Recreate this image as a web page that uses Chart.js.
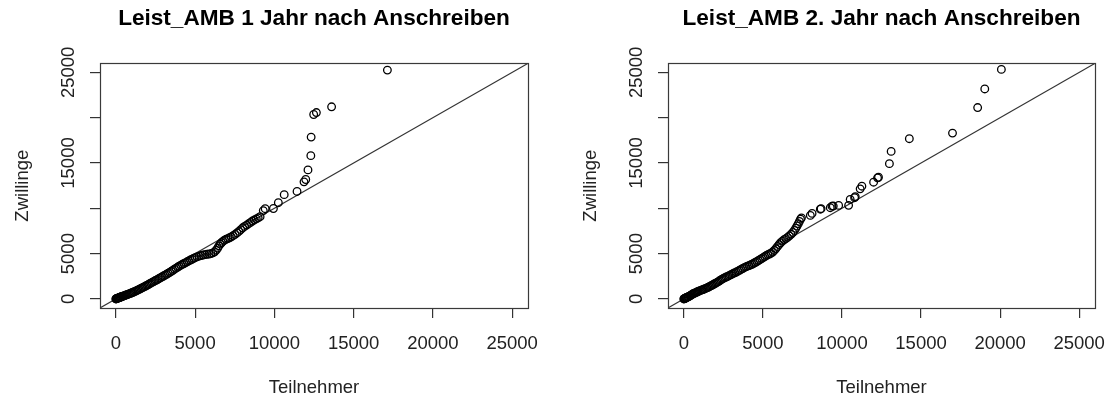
<!DOCTYPE html>
<html lang="de">
<head>
<meta charset="UTF-8">
<title>Leist_AMB QQ-Plots</title>
<script src="https://cdn.jsdelivr.net/npm/chart.js"></script>
<style>
  body { margin: 0; background: #fff; }
  #wrap { position: relative; width: 1113px; height: 401px; }
  canvas { position: absolute; top: 0; }
  #links { left: 0; }
  #rechts { left: 556px; }
</style>
</head>
<body>
<div id="wrap">
  <canvas id="links" width="556" height="401"></canvas>
  <canvas id="rechts" width="557" height="401"></canvas>
</div>
<script>
// Achsen (beide Panels gleich)
const achsenTicks = [0, 5000, 10000, 15000, 20000, 25000];
const xTickLabels = ['0', '5000', '10000', '15000', '20000', '25000'];
const yTickLabels = ['0', '5000', '', '15000', '', '25000']; // R laesst ueberlappende Labels weg
const achsenMin = -1000;
const achsenMax = 26000;
const titel1 = 'Leist_AMB 1 Jahr nach Anschreiben';
const titel2 = 'Leist_AMB 2. Jahr nach Anschreiben';
const xLabel = 'Teilnehmer';
const yLabel = 'Zwillinge';

// Panel 1: sortierte Werte
const teilnehmer1 = [0, 15, 35, 55, 80, 105, 130, 160, 195, 230, 265, 300, 345, 390, 440, 495, 545, 600, 655, 720,
  790, 860, 935, 1005, 1080, 1160, 1245, 1320, 1400, 1480, 1565, 1640, 1720, 1805, 1880, 1960, 2045, 2120, 2200, 2290,
  2380, 2470, 2560, 2650, 2745, 2830, 2920, 3010, 3105, 3200, 3300, 3400, 3500, 3600, 3700, 3800, 3905, 4000, 4100, 4200,
  4300, 4400, 4500, 4600, 4700, 4800, 4900, 5000, 5120, 5250, 5380, 5500, 5620, 5750, 5880, 6000, 6120, 6230, 6330, 6420,
  6500, 6580, 6660, 6750, 6850, 6950, 7060, 7170, 7280, 7400, 7520, 7640, 7760, 7880, 8000, 8120, 8250, 8380, 8500, 8620,
  8740, 8860, 8980, 9100, 9300, 9420, 9940, 10250, 10620, 11430, 11870, 11980, 12120, 12300, 12320, 12480, 12650, 13610, 17130];
const zwillinge1 = [0, 10, 25, 40, 55, 75, 90, 115, 140, 160, 185, 210, 240, 270, 300, 330, 365, 400, 445, 485,
  530, 580, 630, 680, 740, 795, 860, 925, 995, 1065, 1140, 1210, 1280, 1350, 1420, 1500, 1580, 1655, 1740, 1830,
  1915, 2000, 2080, 2170, 2260, 2350, 2440, 2530, 2620, 2720, 2830, 2935, 3050, 3160, 3280, 3400, 3520, 3615, 3730, 3820,
  3910, 4000, 4100, 4200, 4295, 4380, 4470, 4550, 4640, 4720, 4790, 4850, 4890, 4930, 4960, 5005, 5080, 5200, 5380, 5600,
  5850, 6050, 6200, 6350, 6480, 6580, 6660, 6750, 6850, 6980, 7120, 7280, 7450, 7650, 7850, 8000, 8150, 8300, 8450, 8600,
  8720, 8830, 8950, 9080, 9750, 9960, 9980, 10620, 11510, 11860, 12920, 13180, 14240, 15810, 17860, 20350, 20570, 21200, 25250];

// Panel 2
const teilnehmer2 = [0, 20, 50, 80, 110, 150, 190, 230, 280, 330, 380, 440, 500, 560, 620, 690, 760, 830, 900, 980,
  1060, 1140, 1220, 1300, 1380, 1460, 1540, 1620, 1700, 1780, 1860, 1940, 2020, 2100, 2180, 2260, 2340, 2420, 2500, 2590,
  2680, 2770, 2860, 2950, 3040, 3130, 3220, 3320, 3420, 3520, 3620, 3720, 3820, 3920, 4020, 4120, 4220, 4320, 4420, 4520,
  4620, 4720, 4820, 4920, 5020, 5120, 5220, 5320, 5420, 5520, 5620, 5720, 5820, 5920, 6020, 6120, 6230, 6340, 6450, 6560,
  6670, 6780, 6890, 6990, 7080, 7160, 7240, 7310, 7380, 7440, 8000, 8110, 8630, 8680, 9260, 9370, 9450, 9790, 10420, 10520,
  10800, 10840, 11150, 11260, 12000, 12250, 12310, 13000, 13110, 14260, 16990, 18580, 19030, 20080];
const zwillinge2 = [0, 20, 40, 70, 100, 130, 170, 200, 240, 290, 340, 400, 470, 540, 600, 650, 700, 760, 820, 880,
  940, 990, 1040, 1100, 1160, 1220, 1290, 1360, 1440, 1510, 1590, 1670, 1750, 1830, 1910, 2000, 2100, 2190, 2270, 2350,
  2420, 2490, 2570, 2650, 2730, 2810, 2890, 2970, 3060, 3160, 3260, 3360, 3460, 3540, 3610, 3680, 3750, 3830, 3920, 4020,
  4120, 4230, 4340, 4450, 4560, 4680, 4790, 4880, 4960, 5050, 5180, 5350, 5560, 5780, 6000, 6200, 6380, 6530, 6660, 6790,
  6950, 7130, 7330, 7560, 7800, 8050, 8300, 8550, 8800, 8950, 9220, 9440, 9900, 9960, 10070, 10240, 10250, 10320, 10330, 10980,
  11170, 11280, 12150, 12440, 12880, 13360, 13430, 14930, 16280, 17680, 18300, 21120, 23170, 25330];

const schriftArt = '"Liberation Sans", Arial, Helvetica, sans-serif';

// Rahmen um die Plotfläche (wie box() in R)
const rahmen = {
  id: 'rahmen',
  afterDraw(chart) {
    const a = chart.chartArea;
    const c = chart.ctx;
    c.save();
    c.strokeStyle = '#3a3a3a';
    c.lineWidth = 1.2;
    const l = Math.round(a.left) + 0.5, t = Math.round(a.top) + 0.5;
    c.strokeRect(l, t, Math.round(a.right) - Math.round(a.left), Math.round(a.bottom) - Math.round(a.top));
    c.restore();
  }
};

function qqPlot(id, xs, ys, titel, padLinks, padRechts) {
  const punkte = xs.map((x, i) => ({ x: x, y: ys[i] }));
  const schrift = { family: schriftArt, size: 18.5 };
  const gitter = { drawOnChartArea: false, drawTicks: true, tickLength: 10, tickColor: '#333', color: '#333', lineWidth: 1.2 };
  return new Chart(document.getElementById(id), {
    type: 'scatter',
    data: {
      datasets: [
        {
          data: punkte,
          pointRadius: 3.8,
          pointHoverRadius: 3.8,
          pointBorderWidth: 1.3,
          borderColor: '#000',
          backgroundColor: 'rgba(0,0,0,0)'
        },
        {
          type: 'line',
          data: [{ x: achsenMin, y: achsenMin }, { x: achsenMax, y: achsenMax }],
          borderColor: '#333',
          borderWidth: 1.1,
          pointRadius: 0,
          fill: false
        }
      ]
    },
    options: {
      responsive: false,
      animation: false,
      layout: { padding: { left: padLinks, right: padRechts, top: 0, bottom: 0 } },
      plugins: {
        legend: { display: false },
        tooltip: { enabled: false },
        title: {
          display: true,
          text: titel,
          fullSize: false,
          color: '#000',
          font: { family: schriftArt, size: 22.6, weight: 'bold' },
          padding: { top: 5, bottom: 31.2 }
        }
      },
      scales: {
        x: {
          type: 'linear',
          min: achsenMin,
          max: achsenMax,
          afterBuildTicks: s => { s.ticks = achsenTicks.map(v => ({ value: v })); },
          afterFit: s => { s.height = 93; s.paddingLeft = 0; s.paddingRight = 0; },
          grid: gitter,
          border: { display: false },
          ticks: {
            padding: 14.4, color: '#222', font: schrift, maxRotation: 0, autoSkip: false,
            callback: (v, i) => xTickLabels[i]
          },
          title: { display: true, text: xLabel, color: '#222', font: schrift, padding: { top: 0, bottom: 1.6 } }
        },
        y: {
          type: 'linear',
          min: achsenMin,
          max: achsenMax,
          afterBuildTicks: s => { s.ticks = achsenTicks.map(v => ({ value: v })); },
          afterFit: s => { s.width = 88; s.paddingTop = 0; s.paddingBottom = 0; },
          grid: gitter,
          border: { display: false },
          ticks: {
            padding: -4.7, crossAlign: 'center', minRotation: 90, maxRotation: 90,
            color: '#222', font: schrift, autoSkip: false,
            callback: (v, i) => yTickLabels[i]
          },
          title: { display: true, text: yLabel, color: '#222', font: schrift, padding: { top: 0, bottom: 0 } }
        }
      }
    },
    plugins: [rahmen]
  });
}

qqPlot('links', teilnehmer1, zwillinge1, titel1, 12, 28);
qqPlot('rechts', teilnehmer2, zwillinge2, titel2, 24, 18);
</script>
</body>
</html>
